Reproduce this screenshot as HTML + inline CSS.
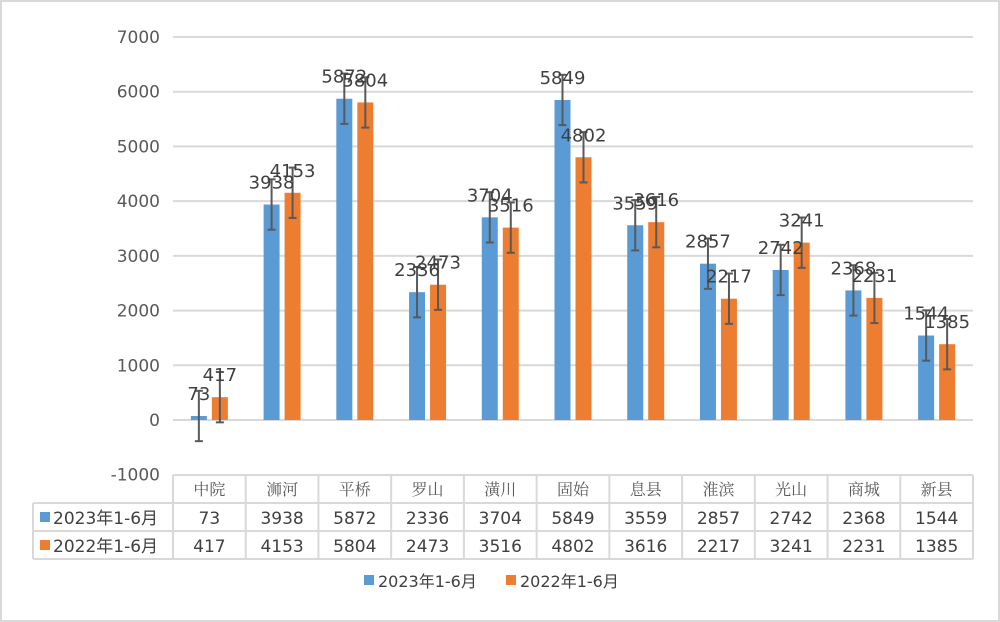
<!DOCTYPE html>
<html><head><meta charset="utf-8"><style>
body{margin:0;background:#fff;}
svg{display:block;font-family:"DejaVu Sans","Liberation Sans","Noto Sans CJK SC",sans-serif;}
</style></head><body>
<svg id="c" width="1000" height="622" viewBox="0 0 1000 622">
<rect x="1" y="1" width="998" height="620" fill="#fff" stroke="#d9d9d9" stroke-width="2"/>
<g id="grid"></g><g id="bars"></g><g id="table"></g>
<g>
<rect x="364" y="575" width="10" height="10" fill="#5b9bd5"/>
<text x="378" y="587" font-size="16" fill="#404040">2023年1-6月</text>
<rect x="506" y="575" width="10" height="10" fill="#ed7d31"/>
<text x="520" y="587" font-size="16" fill="#404040">2022年1-6月</text>
</g>
</svg>
<script>
const categories=["中院","浉河","平桥","罗山","潢川","固始","息县","淮滨","光山","商城","新县"];
const values2023=[73,3938,5872,2336,3704,5849,3559,2857,2742,2368,1544];
const values2022=[417,4153,5804,2473,3516,4802,3616,2217,3241,2231,1385];
const yTicks=[7000,6000,5000,4000,3000,2000,1000,0,-1000];
const errAmount=460;
const NS="http://www.w3.org/2000/svg";
const x0=173,x1=973,yTop=37,yBot=474.7,vMax=7000,vMin=-1000;
const y=v=>yTop+(vMax-v)/(vMax-vMin)*(yBot-yTop);
const cw=(x1-x0)/categories.length;
const xc=i=>x0+cw*(i+0.5);
function mk(tag,attrs,parent,txt){const e=document.createElementNS(NS,tag);for(const k in attrs)e.setAttribute(k,attrs[k]);if(txt!==undefined)e.textContent=txt;parent.appendChild(e);return e;}
const grid=document.getElementById('grid'),bars=document.getElementById('bars'),tbl=document.getElementById('table');
yTicks.forEach(t=>{
  if(t!==vMin){const l=mk('line',{x1:x0,x2:x1,y1:y(t),y2:y(t),stroke:'#d9d9d9','stroke-width':2},grid);
  
  }
  const tx=mk('text',{x:160,y:y(t)+6,'font-size':17,fill:'#595959','text-anchor':'end'},grid,String(t));
  
  
});
const series=[{vals:values2023,color:'#5b9bd5',off:-18.5,key:'2023'},{vals:values2022,color:'#ed7d31',off:2.5,key:'2022'}];
series.forEach(s=>{
  s.vals.forEach((v,i)=>{
    const bx=xc(i)+s.off,top=Math.min(y(v),y(0)),h=Math.abs(y(v)-y(0));
    const r=mk('rect',{x:bx,y:top,width:16,height:h,fill:s.color},bars);
    
    
    const cx=bx+8,ya=y(v+errAmount),yb=y(v-errAmount);
    const g=mk('g',{stroke:'#595959','stroke-width':2},bars);
    
    
    mk('line',{x1:cx,x2:cx,y1:ya,y2:yb},g);
    mk('line',{x1:cx-4,x2:cx+4,y1:ya,y2:ya},g);
    mk('line',{x1:cx-4,x2:cx+4,y1:yb,y2:yb},g);
  });
});
series.forEach(s=>{s.vals.forEach((v,i)=>{
  const t=mk('text',{x:xc(i)+s.off+8,y:y(v)-16,'font-size':18,fill:'#404040','text-anchor':'middle'},bars,String(v));
  
  
});});
// table
const rows=[475,503,531,559];
const lc=mk('g',{stroke:'#d9d9d9','stroke-width':2,fill:'none'},tbl);


mk('line',{x1:x0,x2:x1,y1:rows[0],y2:rows[0]},lc);
mk('line',{x1:33,x2:x1,y1:rows[1],y2:rows[1]},lc);
mk('line',{x1:33,x2:x1,y1:rows[2],y2:rows[2]},lc);
mk('line',{x1:33,x2:x1,y1:rows[3],y2:rows[3]},lc);
mk('line',{x1:33,x2:33,y1:rows[1],y2:rows[3]},lc);
for(let i=0;i<=categories.length;i++){const xx=x0+cw*i;mk('line',{x1:xx,x2:xx,y1:rows[0],y2:rows[3]},lc);}
categories.forEach((c,i)=>{
  const t=mk('text',{x:xc(i),y:495,'font-size':16,fill:'#595959','text-anchor':'middle','font-family':'"Noto Serif CJK SC",serif'},tbl,c);
  
  
});
series.forEach((s,si)=>{
  const ry=rows[si+1]+21;
  const sw=mk('rect',{x:40,y:ry-12,width:10,height:10,fill:s.color},tbl);
  
  
  const lb=mk('text',{x:53,y:ry,'font-size':17,fill:'#404040'},tbl,s.key+'年1-6月');
  
  
  s.vals.forEach((v,i)=>{
    const t=mk('text',{x:xc(i),y:ry,'font-size':17,fill:'#404040','text-anchor':'middle'},tbl,String(v));
    
    
  });
});
</script>
</body></html>
